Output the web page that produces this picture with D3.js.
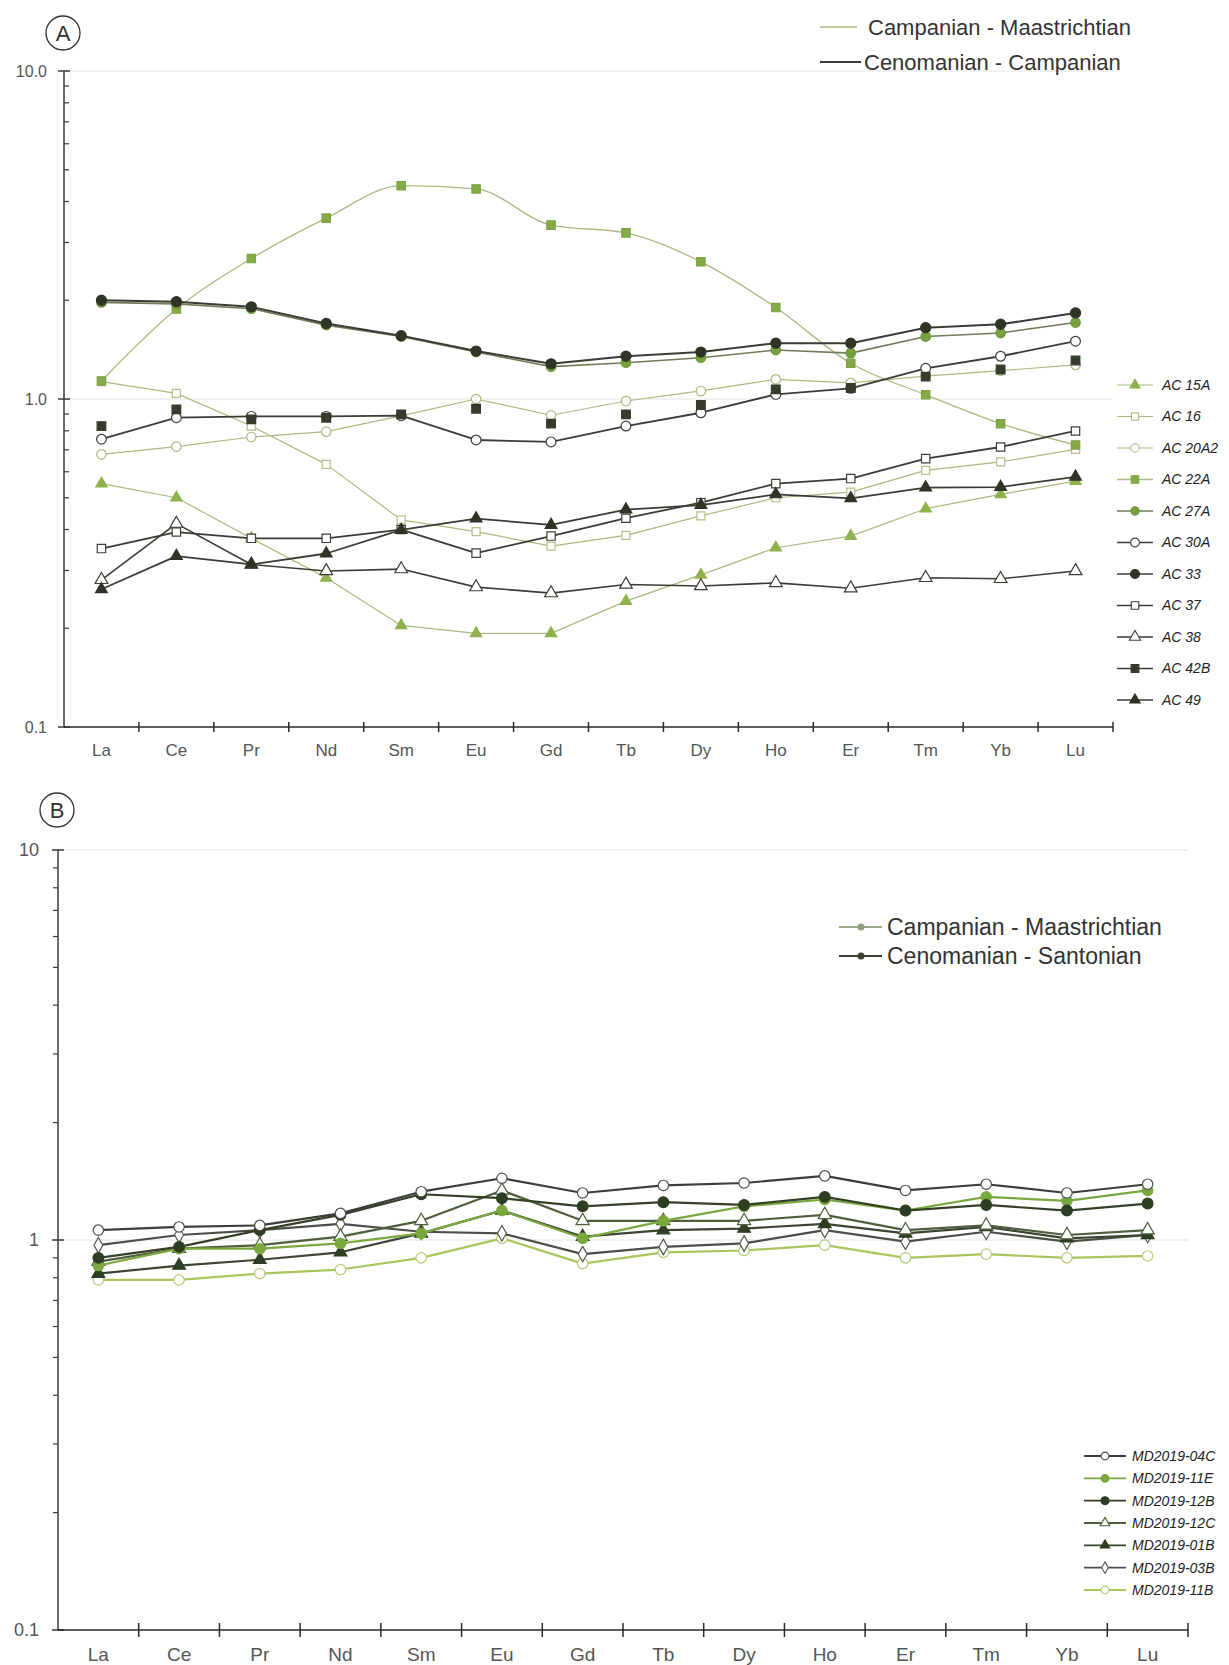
<!DOCTYPE html>
<html>
<head>
<meta charset="utf-8">
<script src="https://cdn.jsdelivr.net/npm/d3@7"></script>
<style>
  body { margin: 0; background: #fff; }
  svg { display: block; }
  text { font-family: "Liberation Sans", Arial, sans-serif; }
</style>
</head>
<body>
<svg id="chart" width="1229" height="1665"></svg>
<script>
// Rare earth elements, chondrite-normalised (log scale)
const elements = ["La","Ce","Pr","Nd","Sm","Eu","Gd","Tb","Dy","Ho","Er","Tm","Yb","Lu"];

// Panel A samples
const samplesA = ["AC 15A","AC 16","AC 20A2","AC 22A","AC 27A","AC 30A","AC 33","AC 37","AC 38","AC 42B","AC 49"];
const ac15A  = [0.552,0.50,0.376,0.285,0.204,0.193,0.193,0.242,0.291,0.352,0.382,0.463,0.512,0.562];
const ac16   = [1.13,1.04,0.827,0.632,0.428,0.394,0.356,0.384,0.44,0.50,0.52,0.606,0.643,0.702];
const ac20A2 = [0.678,0.716,0.766,0.795,0.888,1.0,0.892,0.986,1.058,1.148,1.12,1.175,1.22,1.27];
const ac22A  = [1.135,1.88,2.68,3.56,4.47,4.37,3.39,3.21,2.62,1.90,1.285,1.03,0.841,0.724];
const ac27A  = [1.97,1.95,1.885,1.68,1.55,1.39,1.255,1.29,1.336,1.41,1.38,1.55,1.59,1.71];
const ac30A  = [0.754,0.877,0.885,0.885,0.89,0.75,0.74,0.827,0.908,1.033,1.078,1.24,1.35,1.50];
const ac33   = [2.0,1.98,1.91,1.70,1.56,1.40,1.28,1.35,1.39,1.48,1.48,1.65,1.69,1.83];
const ac37   = [0.35,0.393,0.376,0.376,0.40,0.339,0.382,0.433,0.483,0.552,0.572,0.658,0.714,0.799];
const ac38   = [0.281,0.417,0.313,0.299,0.303,0.267,0.256,0.272,0.269,0.275,0.265,0.285,0.283,0.299];
const ac42B  = [0.827,0.93,0.867,0.877,0.898,0.934,0.841,0.898,0.959,1.07,1.08,1.17,1.23,1.31];
const ac49   = [0.263,0.332,0.313,0.338,0.399,0.432,0.413,0.46,0.475,0.512,0.498,0.537,0.539,0.579];

// Panel B samples
const samplesB = ["MD2019-04C","MD2019-11E","MD2019-12B","MD2019-12C","MD2019-01B","MD2019-03B","MD2019-11B"];
const md04C = [1.06,1.08,1.09,1.17,1.33,1.44,1.32,1.38,1.40,1.46,1.34,1.39,1.32,1.39];
const md11E = [0.86,0.95,0.95,0.98,1.04,1.19,1.01,1.12,1.22,1.27,1.19,1.29,1.26,1.34];
const md12B = [0.90,0.96,1.06,1.16,1.31,1.28,1.22,1.25,1.23,1.29,1.19,1.23,1.19,1.24];
const md12C = [0.88,0.95,0.97,1.02,1.12,1.34,1.12,1.12,1.12,1.16,1.06,1.09,1.03,1.06];
const md01B = [0.82,0.86,0.89,0.93,1.04,1.19,1.02,1.06,1.07,1.10,1.04,1.08,1.01,1.03];
const md03B = [0.97,1.03,1.06,1.10,1.05,1.04,0.92,0.96,0.98,1.06,0.99,1.05,0.99,1.03];
const md11B = [0.79,0.79,0.82,0.84,0.90,1.01,0.87,0.93,0.94,0.97,0.90,0.92,0.90,0.91];

// Age groups
const groupsA = ["Campanian - Maastrichtian","Cenomanian - Campanian"];
const groupsB = ["Campanian - Maastrichtian","Cenomanian - Santonian"];

// Axis tick labels
const yTicksA = [0.1, 1, 10];
const yTickLabelsA = ["0.1","1.0","10.0"];
const yTicksB = [0.1, 1, 10];
const yTickLabelsB = ["0.1","1","10"];

// ---------- styles ----------
const DARK = "#393d34", DARKMK = "#2e3527", LIGHT = "#aab97f", GREEN = "#84ab45";
const stylesA = {
  "AC 15A":  {values: ac15A,  line: LIGHT, lw: 1.2, shape: d3.symbolTriangle, fill: "#8fb24d", stroke: "#8fb24d", size: 55},
  "AC 16":   {values: ac16,   line: LIGHT, lw: 1.2, shape: d3.symbolSquare,   fill: "#fff",    stroke: "#b2c288", size: 64},
  "AC 20A2": {values: ac20A2, line: LIGHT, lw: 1.2, shape: d3.symbolCircle,   fill: "#fff",    stroke: "#a9b97e", size: 70},
  "AC 22A":  {values: ac22A,  line: LIGHT, lw: 1.3, shape: d3.symbolSquare,   fill: GREEN,     stroke: "#7ea244", size: 70, curve: true},
  "AC 27A":  {values: ac27A,  line: "#6f7d58", lw: 1.6, shape: d3.symbolCircle, fill: "#78a23f", stroke: "#6f963c", size: 70},
  "AC 30A":  {values: ac30A,  line: DARK, lw: 1.8, shape: d3.symbolCircle,   fill: "#fff",    stroke: "#3b4035", size: 75},
  "AC 33":   {values: ac33,   line: DARK, lw: 2.0, shape: d3.symbolCircle,   fill: DARKMK,    stroke: DARKMK, size: 80},
  "AC 37":   {values: ac37,   line: DARK, lw: 1.8, shape: d3.symbolSquare,   fill: "#fff",    stroke: "#3b4035", size: 70},
  "AC 38":   {values: ac38,   line: DARK, lw: 1.6, shape: d3.symbolTriangle, fill: "#fff",    stroke: "#3b4035", size: 70},
  "AC 42B":  {values: ac42B,  line: DARK, lw: 1.8, shape: d3.symbolSquare,   fill: "#343c2c", stroke: "#343c2c", size: 75, noLine: true},
  "AC 49":   {values: ac49,   line: DARK, lw: 1.8, shape: d3.symbolTriangle, fill: DARKMK,    stroke: DARKMK, size: 60}
};
const stylesB = {
  "MD2019-04C": {values: md04C, line: "#3c3f39", lw: 2.2, shape: d3.symbolCircle,   fill: "#fff",    stroke: "#4a4d46", size: 85},
  "MD2019-11E": {values: md11E, line: "#7aa83f", lw: 2.2, shape: d3.symbolCircle,   fill: "#79a93c", stroke: "#79a93c", size: 85},
  "MD2019-12B": {values: md12B, line: "#334026", lw: 2.2, shape: d3.symbolCircle,   fill: "#2f3d22", stroke: "#2f3d22", size: 90},
  "MD2019-12C": {values: md12C, line: "#4f5e3d", lw: 2.2, shape: d3.symbolTriangle, fill: "#fff",    stroke: "#4f5e3d", size: 75},
  "MD2019-01B": {values: md01B, line: "#3a4532", lw: 2.2, shape: d3.symbolTriangle, fill: "#2f3d22", stroke: "#2f3d22", size: 70},
  "MD2019-03B": {values: md03B, line: "#4b5046", lw: 2.2, shape: d3.symbolDiamond,  fill: "#fff",    stroke: "#55594f", size: 70},
  "MD2019-11B": {values: md11B, line: "#a9c55c", lw: 2.2, shape: d3.symbolCircle,   fill: "#fff",    stroke: "#b4cb78", size: 85}
};

const svg = d3.select("#chart");
svg.append("rect").attr("width", 1229).attr("height", 1665).attr("fill", "#fff");

function drawPanel(cfg) {
  const g = svg.append("g");
  const x = d3.scaleBand().domain(elements).range([cfg.x0, cfg.x1]);
  const y = d3.scaleLog().domain([0.1, 10]).range([cfg.yBot, cfg.yTop]);
  const cx = d => x(d) + x.bandwidth() / 2;

  // faint decade gridlines
  g.selectAll(".grid").data([1, 10]).join("line")
    .attr("x1", cfg.x0).attr("x2", cfg.x1)
    .attr("y1", d => y(d)).attr("y2", d => y(d))
    .attr("stroke", "#ececec").attr("stroke-width", 1.5);

  // y axis
  g.append("line").attr("x1", cfg.x0).attr("x2", cfg.x0)
    .attr("y1", cfg.yTop).attr("y2", cfg.yBot)
    .attr("stroke", "#3a3a3a").attr("stroke-width", 1.5);
  const minors = [];
  [0.1, 1].forEach(b => { for (let k = 2; k <= 9; k++) minors.push(b * k); });
  g.selectAll(".minor").data(minors).join("line")
    .attr("x1", cfg.x0).attr("x2", cfg.x0 + cfg.minorDir * 5)
    .attr("y1", d => y(d)).attr("y2", d => y(d))
    .attr("stroke", "#3a3a3a").attr("stroke-width", 1.2);
  g.selectAll(".major").data(cfg.yTicks).join("line")
    .attr("x1", cfg.x0 - 6).attr("x2", cfg.x0 + 6)
    .attr("y1", d => y(d)).attr("y2", d => y(d))
    .attr("stroke", "#3a3a3a").attr("stroke-width", 1.5);
  g.selectAll(".ylab").data(cfg.yTicks).join("text")
    .attr("x", cfg.yLabX).attr("y", d => y(d))
    .attr("dy", "0.35em").attr("text-anchor", "end")
    .attr("font-size", cfg.yFont).attr("fill", "#555")
    .text((d, i) => cfg.yTickLabels[i]);

  // x axis with ticks on the category boundaries
  g.append("line").attr("x1", cfg.x0).attr("x2", cfg.x1)
    .attr("y1", cfg.yBot).attr("y2", cfg.yBot)
    .attr("stroke", "#2a2a2a").attr("stroke-width", 1.5);
  const bounds = d3.range(1, elements.length + 1).map(i => cfg.x0 + i * x.step());
  g.selectAll(".xtick").data(bounds).join("line")
    .attr("x1", d => d).attr("x2", d => d)
    .attr("y1", cfg.yBot - cfg.tickLen).attr("y2", cfg.yBot + cfg.tickLen)
    .attr("stroke", "#2a2a2a").attr("stroke-width", 1.5);
  g.selectAll(".xlab").data(elements).join("text")
    .attr("x", d => cx(d)).attr("y", cfg.yBot + cfg.xLabOff)
    .attr("dy", "0.35em").attr("text-anchor", "middle")
    .attr("font-size", cfg.xFont).attr("fill", "#555")
    .text(d => d);

  // series lines and markers
  cfg.order.forEach(name => {
    const s = cfg.styles[name];
    const pts = s.values.map((v, i) => [cx(elements[i]), y(v)]);
    if (!s.noLine) {
      const line = d3.line().curve(s.curve ? d3.curveMonotoneX : d3.curveLinear);
      g.append("path").attr("d", line(pts)).attr("fill", "none")
        .attr("stroke", s.line).attr("stroke-width", s.lw).attr("stroke-linejoin", "round");
    }
    g.selectAll(null).data(pts).join("path")
      .attr("transform", d => `translate(${d[0]},${d[1]})`)
      .attr("d", d3.symbol().type(s.shape).size(s.size))
      .attr("fill", s.fill).attr("stroke", s.stroke).attr("stroke-width", 1.2);
  });

  // circled panel letter
  g.append("circle").attr("cx", cfg.letterX).attr("cy", cfg.letterY).attr("r", 17)
    .attr("fill", "none").attr("stroke", "#333").attr("stroke-width", 1.3);
  g.append("text").attr("x", cfg.letterX).attr("y", cfg.letterY).attr("dy", "0.36em")
    .attr("text-anchor", "middle").attr("font-size", 22).attr("fill", "#333").text(cfg.letter);

  return g;
}

// ---------- panel A ----------
drawPanel({
  x0: 64, x1: 1113, yTop: 71, yBot: 727,
  yTicks: yTicksA, yTickLabels: yTickLabelsA, yLabX: 47, yFont: 16, minorDir: 1,
  tickLen: 5, xLabOff: 23, xFont: 17,
  styles: stylesA,
  order: ["AC 16","AC 20A2","AC 15A","AC 22A","AC 38","AC 37","AC 49","AC 30A","AC 42B","AC 27A","AC 33"],
  letter: "A", letterX: 63, letterY: 33
});

// group legend, panel A
const grpA = d3.scalePoint().domain(groupsA).range([27, 62]);
const grpStyleA = {"Campanian - Maastrichtian": {c: "#a9bb7b", w: 1.5, x2: 857, tx: 868},
                   "Cenomanian - Campanian": {c: "#3a3b36", w: 2, x2: 861, tx: 864}};
groupsA.forEach(gname => {
  const st = grpStyleA[gname];
  svg.append("line").attr("x1", 820).attr("x2", st.x2).attr("y1", grpA(gname)).attr("y2", grpA(gname))
    .attr("stroke", st.c).attr("stroke-width", st.w);
  svg.append("text").attr("x", st.tx).attr("y", grpA(gname)).attr("dy", "0.35em")
    .attr("font-size", 22).attr("fill", "#333").text(gname);
});

// sample legend, panel A
const legA = d3.scalePoint().domain(samplesA).range([385, 700]);
samplesA.forEach(name => {
  const s = stylesA[name], yy = legA(name);
  svg.append("line").attr("x1", 1117).attr("x2", 1153).attr("y1", yy).attr("y2", yy)
    .attr("stroke", s.line).attr("stroke-width", Math.min(s.lw, 1.6));
  svg.append("path").attr("transform", `translate(1135,${yy})`)
    .attr("d", d3.symbol().type(s.shape).size(s.size * 0.8))
    .attr("fill", s.fill).attr("stroke", s.stroke).attr("stroke-width", 1.1);
  svg.append("text").attr("x", 1162).attr("y", yy).attr("dy", "0.35em")
    .attr("font-size", 14).attr("font-style", "italic").attr("fill", "#222").text(name);
});

// ---------- panel B ----------
drawPanel({
  x0: 58, x1: 1188, yTop: 850, yBot: 1630,
  yTicks: yTicksB, yTickLabels: yTickLabelsB, yLabX: 39, yFont: 18, minorDir: -1,
  tickLen: 7, xLabOff: 24, xFont: 19,
  styles: stylesB,
  order: ["MD2019-11B","MD2019-03B","MD2019-01B","MD2019-12C","MD2019-11E","MD2019-12B","MD2019-04C"],
  letter: "B", letterX: 57, letterY: 810
});

// group legend, panel B
const grpB = d3.scalePoint().domain(groupsB).range([927, 956]);
const grpStyleB = {"Campanian - Maastrichtian": {c: "#9ca98a", m: "#8d9c79"},
                   "Cenomanian - Santonian": {c: "#3a4034", m: "#3a4430"}};
groupsB.forEach(gname => {
  const st = grpStyleB[gname], yy = grpB(gname);
  svg.append("line").attr("x1", 839).attr("x2", 882).attr("y1", yy).attr("y2", yy)
    .attr("stroke", st.c).attr("stroke-width", 2);
  svg.append("circle").attr("cx", 861).attr("cy", yy).attr("r", 3.5).attr("fill", st.m);
  svg.append("text").attr("x", 887).attr("y", yy).attr("dy", "0.35em")
    .attr("font-size", 23).attr("fill", "#333").text(gname);
});

// sample legend, panel B
const legB = d3.scalePoint().domain(samplesB).range([1456, 1590]);
samplesB.forEach(name => {
  const s = stylesB[name], yy = legB(name);
  svg.append("line").attr("x1", 1084).attr("x2", 1126).attr("y1", yy).attr("y2", yy)
    .attr("stroke", s.line).attr("stroke-width", 1.8);
  svg.append("path").attr("transform", `translate(1105,${yy})`)
    .attr("d", d3.symbol().type(s.shape).size(s.size * 0.55))
    .attr("fill", s.fill).attr("stroke", s.stroke).attr("stroke-width", 1.1);
  svg.append("text").attr("x", 1132).attr("y", yy).attr("dy", "0.35em")
    .attr("font-size", 14).attr("font-style", "italic").attr("fill", "#222").text(name);
});
</script>
</body>
</html>
